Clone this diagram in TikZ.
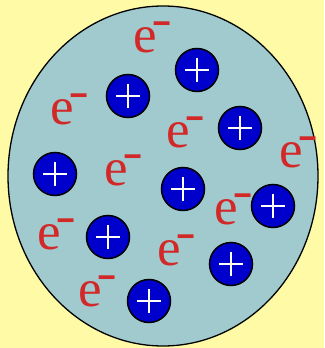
\documentclass[tikz,border=0pt]{standalone}
\usepackage{fontspec}
\setmainfont{Liberation Serif}
\usetikzlibrary{shapes.geometric}
\definecolor{bgyellow}{RGB}{255,250,165}
\definecolor{ballteal}{RGB}{160,202,206}
\definecolor{protonblue}{RGB}{0,0,205}
\definecolor{elecred}{RGB}{210,40,40}
\tikzset{
  proton/.style={circle,draw=black,line width=1.5pt,fill=protonblue,minimum size=43pt,inner sep=0pt},
  electron/.style={inner sep=0pt,text=elecred,font=\fontsize{53}{53}\selectfont},
}
\newcommand{\elec}{e\kern-4pt\raisebox{4pt}{\fontsize{34}{34}\selectfont\scalebox{1}[2.2]{−}}}
\newcommand{\plussign}[1]{\draw[white,line width=1.6pt] ([xshift=-12pt]#1.center) -- ([xshift=12pt]#1.center) ([yshift=-12pt]#1.center) -- ([yshift=12pt]#1.center);}
\begin{document}
\begin{tikzpicture}[x=1pt,y=-1pt]
\fill[bgyellow] (0,0) rectangle (324,348);
\useasboundingbox (0,0) rectangle (324,348);
\node[ellipse,draw=black,line width=1.3pt,fill=ballteal,minimum width=310pt,minimum height=340pt,inner sep=0pt] (atom) at (163,176) {};
% protons
\foreach \n/\x/\y in {p1/197/70, p2/128/96, p3/240/128, p4/55/174, p5/183/189, p6/273/206, p7/108/237, p8/231/264, p9/149/301}{
  \node[proton] (\n) at (\x,\y) {};
  \plussign{\n}
}
% electrons (point = centre of the letter e)
\foreach \n/\x/\y in {e1/145/39, e2/62/111, e3/178/134, e4/291/154, e5/116/172, e6/226/211, e7/49/236, e8/169/252, e9/90/293}{
  \node[electron,anchor=base west] (\n) at ([xshift=-12pt,yshift=-13pt]\x,\y) {\elec};
}
\end{tikzpicture}
\end{document}
